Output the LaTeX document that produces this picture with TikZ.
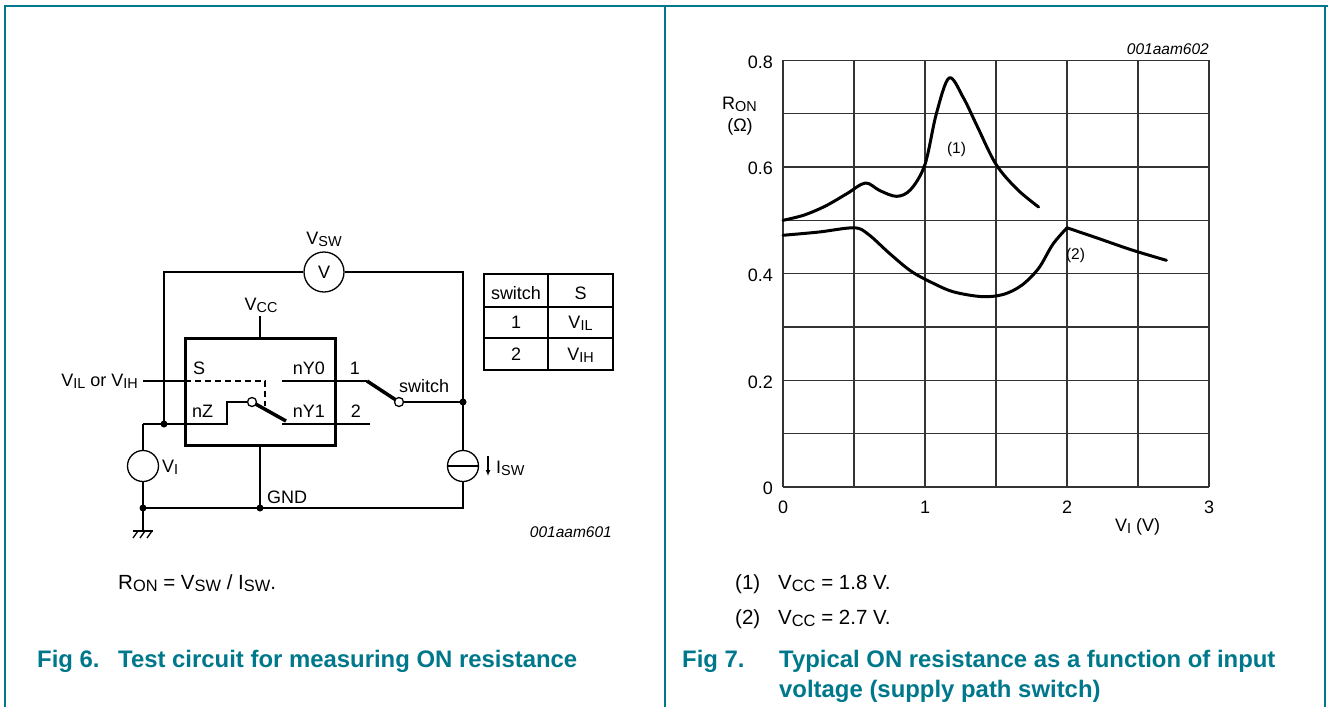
\documentclass[tikz,border=0pt]{standalone}
\usepackage{fontspec}
\setmainfont{Liberation Sans}
\usetikzlibrary{positioning, arrows.meta}

\definecolor{nxpteal}{RGB}{0,120,140}
\newcommand{\figfont}{\fontsize{18}{21}\selectfont}
\newcommand{\codefont}{\fontsize{15.5}{18}\selectfont\itshape}
\newcommand{\notefont}{\fontsize{15.5}{18}\selectfont}
\newcommand{\bodyfont}{\fontsize{20.5}{24}\selectfont}
\newcommand{\capfont}{\fontsize{23.9}{29}\selectfont\bfseries}
\newcommand{\lo}[1]{\raisebox{-0.12em}{\scalebox{0.8}{#1}}}

\begin{document}
\begin{tikzpicture}[x=1pt, y=-1pt,
    % Styles
    wire/.style={line width=1.3pt},
    chip/.style={draw, line width=3pt, minimum width=150pt, minimum height=107pt, inner sep=0pt},
    blade/.style={line width=3.5pt},
    contact/.style={circle, draw, line width=1.3pt, fill=white, inner sep=0pt, minimum size=9pt},
    meter/.style={circle, draw, line width=1.3pt, inner sep=0pt, minimum size=40pt, font=\figfont},
    source/.style={circle, draw, line width=1.3pt, inner sep=0pt, minimum size=31pt},
    junction/.style={circle, fill, inner sep=0pt, minimum size=7pt},
    tag/.style={font=\figfont, inner sep=0pt},
    note/.style={font=\notefont, inner sep=0pt},
    figcode/.style={font=\codefont, inner sep=0pt, anchor=base east},
    body/.style={font=\bodyfont, inner sep=0pt, anchor=base west},
    caption/.style={font=\capfont, text=nxpteal, inner sep=0pt, anchor=base west},
    gridline/.style={line width=1.1pt, black!80},
    curve/.style={line width=3pt, line join=round, line cap=round},
    frame/.style={draw=nxpteal, line width=1.6pt},
]
\useasboundingbox (0,0) rectangle (1328,707);

% Panel frame
\draw[frame] (5,707) -- (5,6) -- (1328,6);
\draw[frame] (665,6) -- (665,707);
\draw[frame] (1325,6) -- (1325,707);

% Measuring loop
\node[meter] (vm) at (324,272) {V};
\node[tag, anchor=base] (vsw) at (324,244) {V\lo{SW}};
\coordinate (tl) at (164,272);
\coordinate (tr) at (463,272);
\coordinate (swnode) at (463,402);
\node[source] (isrc) at (463,466) {};
\coordinate (br) at (463,508);
\coordinate (gndnode) at (260,508);
\coordinate (bl) at (143,508);
\node[source] (vi) at (143,466) {};
\coordinate (znode) at (164,424);
\coordinate (zin) at (143,424);
\draw[wire] (vm.west) -- (tl) -- (znode);
\draw[wire] (vm.east) -- (tr) -- (isrc.north);
\draw[wire] (isrc.west) -- (isrc.east);
\draw[wire] (isrc.south) -- (br) -- (bl);
\draw[wire] (zin) -- (vi.north);
\draw[wire] (vi.south) -- (bl);
\node[tag, anchor=base west] (vilbl) at (162,472) {V\lo{I}};
\coordinate (iarrtop) at (488,456);
\coordinate (iarrbot) at (488,476);
\draw[wire, -{Latex[length=6pt, width=5pt]}] (iarrtop) -- (iarrbot);
\node[tag, anchor=base west] (iswlbl) at (496,473) {I\lo{SW}};

% Switch chip
\node[chip] (ic) at (260,391.5) {};
\coordinate (vccpin) at (260,316);
\draw[wire] (vccpin) -- (ic.north);
\node[tag, anchor=base] (vcc) at (261,310) {V\lo{CC}};
\draw[wire] (ic.south) -- (gndnode);
\node[tag, anchor=base west] (gnd) at (267,503) {GND};
\node[tag, anchor=base west] (spin) at (193,374) {S};
\node[tag, anchor=base east] (y0pin) at (325,374) {nY0};
\node[tag, anchor=base west] (zpin) at (192,417) {nZ};
\node[tag, anchor=base east] (y1pin) at (325,417) {nY1};

% Select line and internal switch
\coordinate (sin) at (143,381);
\coordinate (sedge) at (185,381);
\coordinate (sbend) at (265,381);
\coordinate (send) at (265,406);
\draw[wire] (sin) -- (sedge);
\draw[wire, dash pattern=on 6pt off 4pt] (sedge) -- (sbend) -- (send);
\node[tag, anchor=base east] (vilvih) at (138,386) {V\lo{IL} or V\lo{IH}};
\coordinate (zstep) at (227,424);
\coordinate (zup) at (227,402);
\coordinate (zcpos) at (252,402);
\coordinate (y1a) at (282,424);
\coordinate (y1b) at (370,424);
\coordinate (y0a) at (282,381);
\coordinate (y0b) at (367,381);
\draw[blade] (zcpos) -- (286,421);
\node[contact] (zc) at (zcpos) {};
\draw[wire] (zin) -- (zstep) -- (zup) -- (zc.west);
\draw[wire] (y0a) -- (y0b);
\draw[wire] (y1a) -- (y1b);
\node[tag, anchor=base] (pos1) at (355,374) {1};
\node[tag, anchor=base] (pos2) at (356,417) {2};

% External switch
\coordinate (swpos) at (399,402);
\draw[blade] (y0b) -- (swpos);
\node[contact] (swk) at (swpos) {};
\draw[wire] (swk.east) -- (swnode);
\node[tag, anchor=base west] (swlbl) at (399,392) {switch};

% Junctions and ground
\foreach \j in {znode, swnode, gndnode, bl} \node[junction] at (\j) {};
\coordinate (gtop) at (143,531);
\draw[wire] (bl) -- (gtop);
\draw[wire] (133,531) -- (153,531);
\draw[wire] (138,531) -- (133,538) (145,531) -- (140,538) (152,531) -- (147,538);

% Table
\draw[wire] (484,274) rectangle (613,370);
\draw[wire] (548,274) -- (548,370);
\draw[wire] (484,307) -- (613,307);
\draw[wire] (484,338) -- (613,338);
\node[tag, anchor=base] (thsw) at (516,299) {switch};
\node[tag, anchor=base] (ths) at (580.5,299) {S};
\node[tag, anchor=base] (tone) at (516,328) {1};
\node[tag, anchor=base] (tvil) at (580.5,328) {V\lo{IL}};
\node[tag, anchor=base] (ttwo) at (516,360) {2};
\node[tag, anchor=base] (tvih) at (580.5,360) {V\lo{IH}};

\node[figcode] (code601) at (612,537) {001aam601};
\node[body] (ron) at (118,589) {R\lo{ON} = V\lo{SW} / I\lo{SW}.};
\node[caption] (fig6) at (37,667) {Fig 6.};
\node[caption] (fig6t) at (118,667) {Test circuit for measuring ON resistance};

% Graph
\coordinate (origin) at (783,487);
\begin{scope}[shift={(origin)}, x=142pt, y=533.33pt]
  \foreach \k in {0,...,6} \draw[gridline] (\k/2,0) -- (\k/2,0.8);
  \foreach \k in {0,...,8} \draw[gridline] (0,\k/10) -- (3,\k/10);
  \foreach \yv in {0,0.2,0.4,0.6,0.8}
    \node[tag, anchor=east, xshift=-10pt, yshift=-1.5pt] (ytick\yv) at (0,\yv) {\yv};
  \foreach \xv in {0,1,2,3}
    \node[tag, anchor=base, yshift=-26pt] (xtick\xv) at (\xv,0) {\xv};
  % V_CC = 1.8 V
  \draw[curve] plot[smooth, tension=0.55] coordinates {(0,0.500) (0.15,0.510) (0.3,0.527) (0.45,0.550) (0.58,0.570) (0.68,0.556) (0.8,0.545) (0.9,0.558) (1.0,0.605) (1.08,0.700) (1.17,0.767) (1.27,0.730) (1.37,0.675) (1.5,0.605) (1.65,0.558) (1.8,0.525)};
  % V_CC = 2.7 V
  \draw[curve] plot[smooth, tension=0.55] coordinates {(0,0.472) (0.25,0.478) (0.5,0.486) (0.6,0.474) (0.75,0.438) (0.9,0.405) (1.05,0.383) (1.2,0.366) (1.4,0.357) (1.55,0.361) (1.68,0.378) (1.8,0.410) (1.9,0.455) (2.0,0.486)};
  \draw[curve] plot[smooth, tension=0.55] coordinates {(2.0,0.486) (2.2,0.468) (2.45,0.445) (2.7,0.425)};
\end{scope}
\node[note] (c1) at (956.5,149) {(1)};
\node[note] (c2) at (1075.5,255) {(2)};
\node[tag, anchor=base west] (ronlbl) at (722,109) {R\lo{ON}};
\node[tag, anchor=base] (ohm) at (740,131) {(Ω)};
\node[tag, anchor=base west] (vilbl2) at (1115,531) {V\lo{I} (V)};
\node[figcode] (code602) at (1209,54) {001aam602};

% Legend and caption
\node[body] (leg1n) at (735,589) {(1)};
\node[body] (leg1) at (778,589) {V\lo{CC} = 1.8 V.};
\node[body] (leg2n) at (735,624) {(2)};
\node[body] (leg2) at (778,624) {V\lo{CC} = 2.7 V.};
\node[caption] (fig7) at (682,667) {Fig 7.};
\node[caption] (fig7t) at (779,667) {Typical ON resistance as a function of input};
\node[caption] (fig7u) at (779,697) {voltage (supply path switch)};

\end{tikzpicture}
\end{document}
